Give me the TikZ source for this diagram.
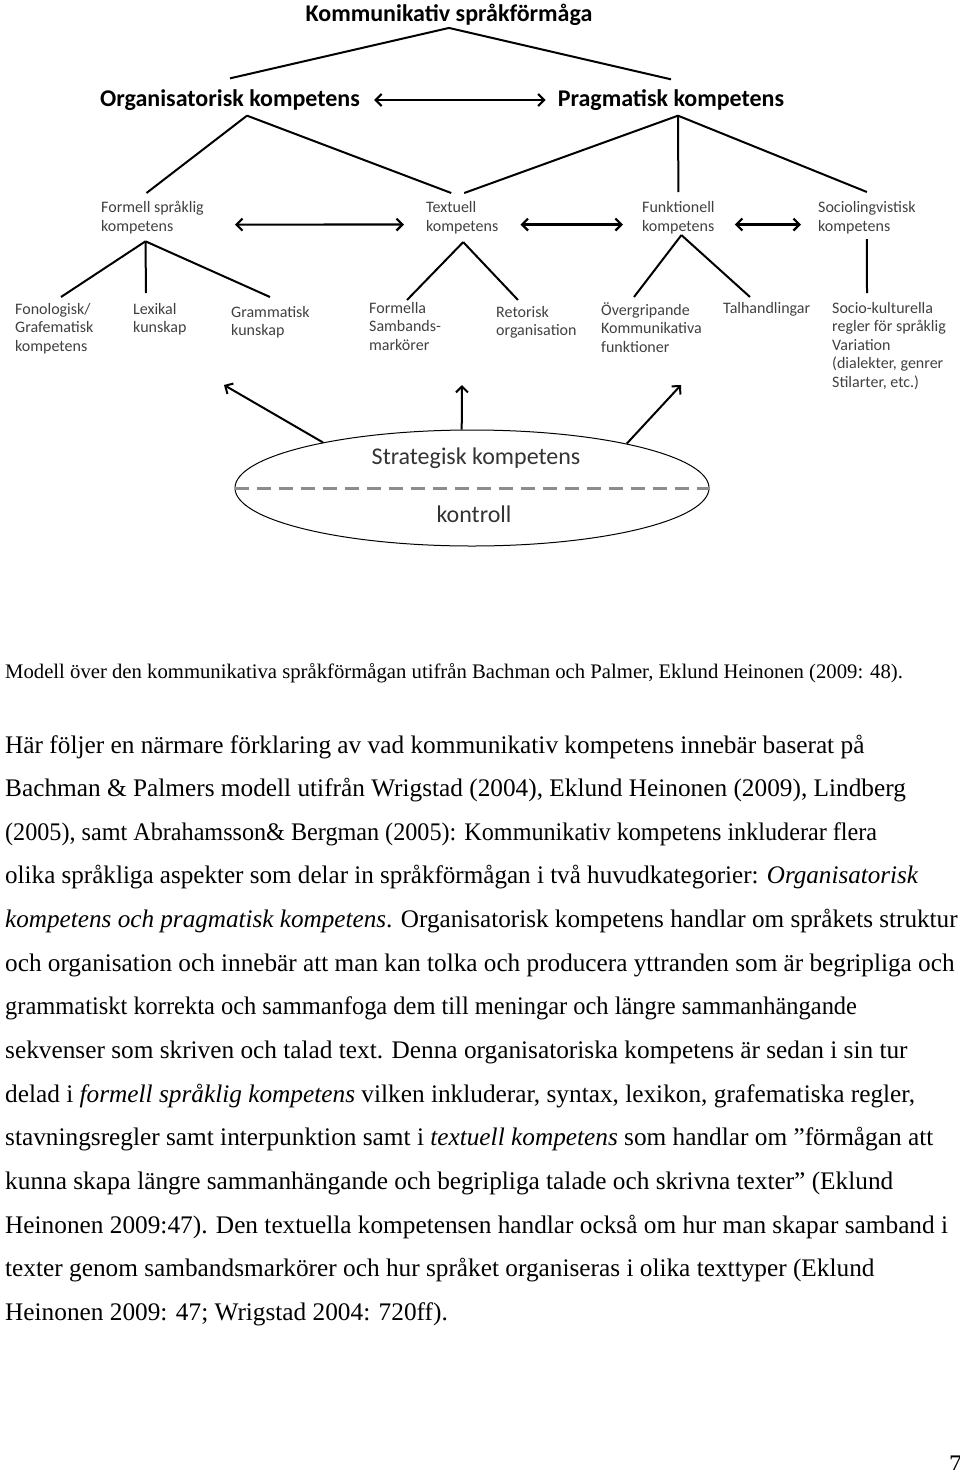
\documentclass[tikz,border=0pt]{standalone}
\usepackage{fontspec}
\setmainfont{Liberation Serif}
\newfontfamily\calibri{Carlito}
\usepackage{graphicx}
\usepackage{tikz}
\usetikzlibrary{arrows.meta}
\usetikzlibrary{shapes.geometric}

\begin{document}
\begin{tikzpicture}[x=1pt, y=1pt,
    head/.style={font=\calibri\bfseries\fontsize{24}{28}\selectfont, inner sep=0},
    mid/.style={font=\calibri\fontsize{16}{19}\selectfont, text=black!75, align=left, inner sep=0, anchor=north west},
    leaf/.style={font=\calibri\fontsize{16}{18.5}\selectfont, text=black!75, align=left, inner sep=0, anchor=north west},
    strat text/.style={font=\calibri\fontsize{24}{28}\selectfont, text=black!80, inner sep=0},
    link/.style={line width=2pt},
    both/.style={line width=2.2pt, {Straight Barb[length=6pt,width=12pt]}-{Straight Barb[length=6pt,width=12pt]}},
    up/.style={line width=2pt, -{Straight Barb[length=6pt,width=12pt]}},
    bodyline/.style={font=\fontsize{25.3}{30}\selectfont, anchor=base west, inner sep=0}
  ]
  \useasboundingbox (0,0) rectangle (960,-1470);

  \node[head] (title) at (449,-15) {Kommunikativ språkförmåga};
  \node[head] (org) at (230,-100) {Organisatorisk kompetens};
  \node[head] (prag) at (671,-100) {Pragmatisk kompetens};

  \node[mid] (fsk) at (101,-201) {Formell språklig\\kompetens};
  \node[mid] (tk) at (426,-201) {Textuell\\kompetens};
  \node[mid] (fk) at (642,-201) {Funktionell\\kompetens};
  \node[mid] (sk) at (818,-201) {Sociolingvistisk\\kompetens};

  \node[leaf] (fono) at (15,-303) {Fonologisk/\\Grafematisk\\kompetens};
  \node[leaf] (lex) at (133,-303) {Lexikal\\kunskap};
  \node[leaf] (gram) at (231,-306) {Grammatisk\\kunskap};
  \node[leaf] (fsm) at (369,-302) {Formella\\Sambands-\\markörer};
  \node[leaf] (ret) at (496,-306) {Retorisk\\organisation};
  \node[leaf] (over) at (601,-302) {Övergripande\\Kommunikativa\\funktioner};
  \node[leaf] (tal) at (723,-302) {Talhandlingar};
  \node[leaf] (socio) at (832,-302) {Socio-kulturella\\regler för språklig\\Variation\\(dialekter, genrer\\Stilarter, etc.)};

  \node[ellipse, draw, line width=1pt, minimum width=474pt, minimum height=116pt, inner sep=0] (strat) at (472,-488) {};
  \node[strat text] (strat1) at (476,-458) {Strategisk kompetens};
  \node[strat text] (strat2) at (474,-514) {kontroll};
  \draw[black!45, line width=3pt, dash pattern=on 14pt off 8pt] (strat.west) -- (strat.east);

  \draw[link] ([yshift=-2]title.south) -- ([yshift=11]org.north);
  \draw[link] ([yshift=-2]title.south) -- ([yshift=10]prag.north);
  \draw[both, shorten <=14pt, shorten >=12pt] (org) -- (prag);

  \coordinate (org-j) at ([xshift=17,yshift=-5]org.south);
  \coordinate (prag-j) at ([xshift=7,yshift=-5]prag.south);
  \draw[link] (org-j) -- ([xshift=-6,yshift=8]fsk.north);
  \draw[link] (org-j) -- ([xshift=-11,yshift=8]tk.north);
  \draw[link] (prag-j) -- ([xshift=2,yshift=8]tk.north);
  \draw[link] (prag-j) -- ([yshift=9]fk.north);
  \draw[link] (prag-j) -- ([yshift=9]sk.north);

  \draw[both, shorten <=31pt, shorten >=22pt] ([yshift=-7]fsk.east) -- ([yshift=-7]tk.west);
  \draw[both, shorten <=22pt, shorten >=19pt] ([yshift=-7]tk.east) -- ([yshift=-7]fk.west);
  \draw[both, shorten <=20pt, shorten >=17pt] ([yshift=-7]fk.east) -- ([yshift=-7]sk.west);

  \coordinate (fsk-j) at ([xshift=-7,yshift=-7]fsk.south);
  \coordinate (tk-j) at ([xshift=1,yshift=-8]tk.south);
  \coordinate (fk-j) at ([xshift=3,yshift=-1]fk.south);
  \coordinate (sk-j) at ([yshift=-5]sk.south);
  \foreach \leaf/\dx/\dy in {fono/46/6, lex/13/10, gram/39/9}
    \draw[link] (fsk-j) -- ([xshift=\dx,yshift=\dy]\leaf.north west);
  \foreach \leaf/\dx/\dy in {fsm/38/2, ret/22/6}
    \draw[link] (tk-j) -- ([xshift=\dx,yshift=\dy]\leaf.north west);
  \foreach \leaf/\dx/\dy in {over/33/5, tal/27/5}
    \draw[link] (fk-j) -- ([xshift=\dx,yshift=\dy]\leaf.north west);
  \draw[link] (sk-j) -- ([xshift=35,yshift=9]socio.north west);

  \coordinate (a1) at (224,-385);
  \coordinate (a2) at (462,-385);
  \coordinate (a3) at (681,-385);
  \draw[up] (strat.163) -- (a1);
  \draw[up] (strat.100) -- (a2);
  \draw[up] (strat.16) -- (a3);

  \node[bodyline, font=\fontsize{20.7}{25}\selectfont] (cap) at (5,-678) {Modell över den kommunikativa språkförmågan utifrån Bachman och Palmer, Eklund Heinonen (2009: 48).};
  \foreach \s/\txt [count=\i] in {
    1/{Här följer en närmare förklaring av vad kommunikativ kompetens innebär baserat på},
    1/{Bachman \& Palmers modell utifrån Wrigstad (2004), Eklund Heinonen (2009), Lindberg},
    0.955/{(2005), samt Abrahamsson\& Bergman (2005): Kommunikativ kompetens inkluderar flera},
    0.992/{olika språkliga aspekter som delar in språkförmågan i två huvudkategorier: \textit{Organisatorisk}},
    0.995/{\textit{kompetens och pragmatisk kompetens}. Organisatorisk kompetens handlar om språkets struktur},
    0.997/{och organisation och innebär att man kan tolka och producera yttranden som är begripliga och},
    0.966/{grammatiskt korrekta och sammanfoga dem till meningar och längre sammanhängande},
    1/{sekvenser som skriven och talad text. Denna organisatoriska kompetens är sedan i sin tur},
    1/{delad i \textit{formell språklig kompetens} vilken inkluderar, syntax, lexikon, grafematiska regler,},
    1/{stavningsregler samt interpunktion samt i \textit{textuell kompetens} som handlar om ”förmågan att},
    1/{kunna skapa längre sammanhängande och begripliga talade och skrivna texter” (Eklund},
    1/{Heinonen 2009:47). Den textuella kompetensen handlar också om hur man skapar samband i},
    1/{texter genom sambandsmarkörer och hur språket organiseras i olika texttyper (Eklund},
    1/{Heinonen 2009: 47; Wrigstad 2004: 720ff).}}
    \node[bodyline] (line\i) at (5,{-753-43.65*(\i-1)}) {\scalebox{\s}[1]{\txt}};
  \node[bodyline, anchor=north west] (page) at (949,-1456) {7};
\end{tikzpicture}
\end{document}
